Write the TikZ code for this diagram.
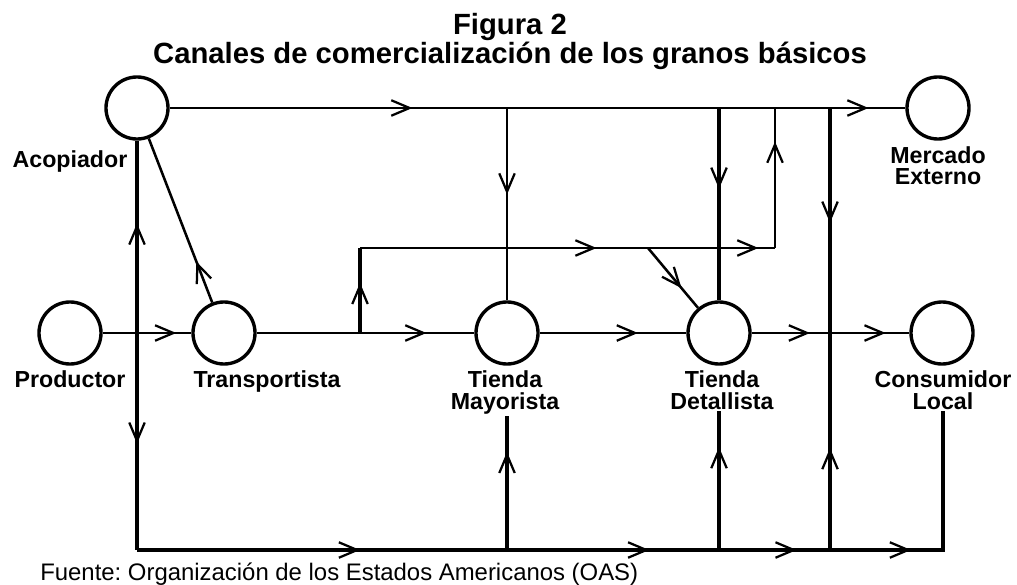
\documentclass[tikz,border=0pt]{standalone}
\usepackage{fontspec}
\setmainfont{Liberation Sans}
\usepackage{tikz}
\usetikzlibrary{arrows.meta,decorations.markings}
\frenchspacing

\tikzset{
    agent/.style={circle, draw, line width=2.4pt, minimum size=1.55cm, inner sep=0pt},
    lbl/.style={font=\bfseries\fontsize{16.5}{15.5}\selectfont, align=center, inner sep=1pt, anchor=base},
    thinflow/.style={line width=1.3pt},
    semiflow/.style={line width=1.8pt},
    thickflow/.style={line width=2.4pt},
    flowtip/.style={postaction={decorate, decoration={markings,
        mark=at position #1 with {\arrow{Straight Barb[length=13pt, width=11pt, line width=1.6pt]}}}}}
}

\begin{document}
\begin{tikzpicture}[x=0.025cm, y=-0.025cm]
    \useasboundingbox (0,0) rectangle (1017,584);

    % Title (base = last line)
    \node[font=\bfseries\fontsize{20.8}{21.3}\selectfont, align=center, anchor=base] (title) at (510,64)
        {Figura 2\\Canales de comercialización de los granos básicos};

    % Agents
    \node[agent] (acop)  at (137,108) {};
    \node[agent] (merc)  at (938,108) {};
    \node[agent] (prod)  at (70,333)  {};
    \node[agent] (trans) at (224,333) {};
    \node[agent] (mayor) at (507,333) {};
    \node[agent] (detal) at (719,333) {};
    \node[agent] (cons)  at (942,333) {};

    % Labels
    \node[lbl] (acop-l)  at (70,167)  {Acopiador};
    \node[lbl] (merc-l)  at (938,185) {Mercado\\Externo};
    \node[lbl] (prod-l)  at (70,387)  {Productor};
    \node[lbl] (trans-l) at (267,387) {Transportista};
    \node[lbl] (mayor-l) at (505,409) {Tienda\\Mayorista};
    \node[lbl] (detal-l) at (722,409) {Tienda\\Detallista};
    \node[lbl] (cons-l)  at (943,409) {Consumidor\\Local};

    % Junctions
    \coordinate (pj)    at (137,333);
    \coordinate (tup)   at (360,333);
    \coordinate (tup2)  at (360,248);
    \coordinate (tdiag) at (648,248);
    \coordinate (tr)    at (775,248);
    \coordinate (ttop)  at (775,108);
    \coordinate (a507)  at (507,108);
    \coordinate (a719)  at (719,108);
    \coordinate (a830)  at (830,108);
    \coordinate (m830)  at (830,333);
    \coordinate (bl)    at (137,550);
    \coordinate (b507)  at (507,550);
    \coordinate (b719)  at (719,550);
    \coordinate (b830)  at (830,550);
    \coordinate (br)    at (943,550);

    % Export channel
    \draw[semiflow, flowtip=0.33, flowtip=0.95] (acop) -- (merc);
    \draw[thinflow, flowtip=0.45] (a507) -- (mayor);
    \draw[thickflow, flowtip=0.42] (a719) -- (detal);
    \draw[thickflow, flowtip=0.51] (a830) -- (m830);

    % Transport branch
    \draw[thickflow, flowtip=0.59] (tup) -- (tup2);
    \draw[semiflow, flowtip=0.57, flowtip=0.96] (tup2) -- (tr);
    \draw[thinflow, flowtip=0.76] (tr) -- (ttop);
    \draw[semiflow, flowtip=0.67] (tdiag) -- (detal);

    % Producer and collector
    \draw[semiflow, flowtip=0.25] (trans) -- (acop);
    \draw[thickflow, flowtip=0.57] (pj) -- (acop);
    \draw[thickflow, flowtip=0.51] (pj) -- (bl);

    % Main line
    \draw[thinflow, flowtip=0.83] (prod) -- (trans);
    \draw[thinflow, flowtip=0.78] (trans) -- (mayor);
    \draw[thinflow, flowtip=0.67] (mayor) -- (detal);
    \draw[thinflow, flowtip=0.37, flowtip=0.85] (detal) -- (cons);

    % Bottom line
    \draw[thickflow, flowtip=0.236, flowtip=0.542, flowtip=0.698, flowtip=0.819] (bl) -- (br) -- (br |- cons-l.south);
    \draw[thickflow, flowtip=0.73] (b507) -- (b507 |- mayor-l.south);
    \draw[thickflow, flowtip=0.74] (b719) -- (b719 |- detal-l.south);
    \draw[thickflow, flowtip=0.47] (b830) -- (m830);

    % Source
    \node[font=\fontsize{17}{17}\selectfont, anchor=base west, inner sep=0pt] (src) at (40,580)
        {Fuente: Organización de los Estados Americanos (OAS)};
\end{tikzpicture}
\end{document}
